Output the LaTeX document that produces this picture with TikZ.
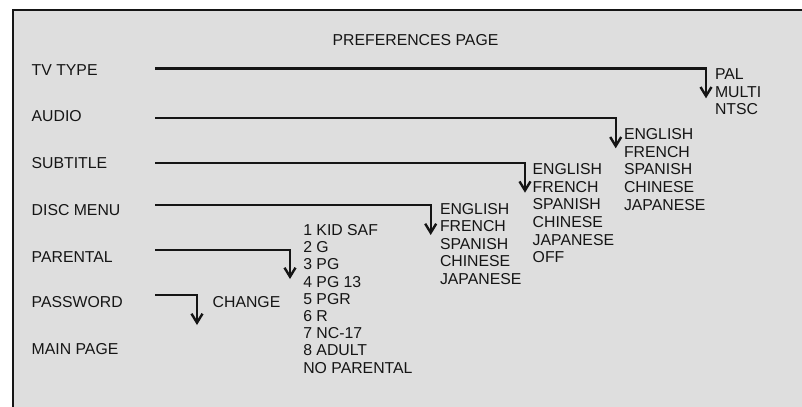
\documentclass[tikz,border=0pt]{standalone}
\usepackage{fontspec}
\setmainfont{Liberation Sans}
\usetikzlibrary{arrows.meta}
\definecolor{bg}{HTML}{DEDEDE}
\definecolor{ink}{HTML}{151515}
\begin{document}
\begin{tikzpicture}[x=1bp,y=-1bp,
  txt/.style={anchor=base west, inner sep=0pt, outer sep=0pt,
    font=\fontsize{15.8bp}{17.6bp}\selectfont, text=ink},
  lst/.style={txt, anchor=north west, align=left},
  conn/.style={draw=ink, line width=2.2bp,
    -{Straight Barb[length=9bp,width=11bp,line width=2.4bp]}}]
\useasboundingbox (0,0) rectangle (802,406);
\fill[white] (0,0) rectangle (802,406);
\begin{scope}
\clip (0,0) rectangle (802,406);
\draw[fill=bg, draw=ink, line width=1.3bp] (13,10) rectangle (815,420);
\end{scope}
% title
\node[txt] (title) at (332.7,45.7) {PREFERENCES PAGE};
% labels
\node[txt] (tv) at (31.7,75.7) {TV TYPE};
\node[txt] (audio) at (31.7,121.7) {AUDIO};
\node[txt] (sub) at (31.7,168.3) {SUBTITLE};
\node[txt] (disc) at (31.7,215) {DISC MENU};
\node[txt] (par) at (31.7,262.3) {PARENTAL};
\node[txt] (pw) at (31.7,307.3) {PASSWORD};
\node[txt] (main) at (31.7,354) {MAIN PAGE};
\node[txt] (chg) at (212.7,307.3) {CHANGE};
% option lists
\node[lst] (tvopt) at (715,68.7) {PAL\\MULTI\\NTSC};
\node[lst] (audopt) at (624,128.7) {ENGLISH\\FRENCH\\SPANISH\\CHINESE\\JAPANESE};
\node[lst] (subopt) at (532.7,163.7) {ENGLISH\\FRENCH\\SPANISH\\CHINESE\\JAPANESE\\OFF};
\node[lst] (discopt) at (440,203) {ENGLISH\\FRENCH\\SPANISH\\CHINESE\\JAPANESE};
\node[lst, font=\fontsize{15.8bp}{17.2bp}\selectfont] (paropt) at (303.3,224.4)
  {1 KID SAF\\2 G\\3 PG\\4 PG 13\\5 PGR\\6 R\\7 NC-17\\8 ADULT\\NO PARENTAL};
% connector coordinates
\coordinate (tvS) at (155,68.5);   \coordinate (tvE) at (706,98.3);
\coordinate (auS) at (155,118.3);  \coordinate (auE) at (615.7,148.3);
\coordinate (suS) at (155,163.3);  \coordinate (suE) at (525,192.7);
\coordinate (diS) at (155,205.3);  \coordinate (diE) at (430.7,235);
\coordinate (paS) at (155,250);    \coordinate (paE) at (290,279);
\coordinate (pwS) at (155,295);    \coordinate (pwE) at (197,325);
\draw[conn] (tvS) -| (tvE);
\draw[conn] (auS) -| (auE);
\draw[conn] (suS) -| (suE);
\draw[conn] (diS) -| (diE);
\draw[conn] (paS) -| (paE);
\draw[conn] (pwS) -| (pwE);
\end{tikzpicture}
\end{document}
